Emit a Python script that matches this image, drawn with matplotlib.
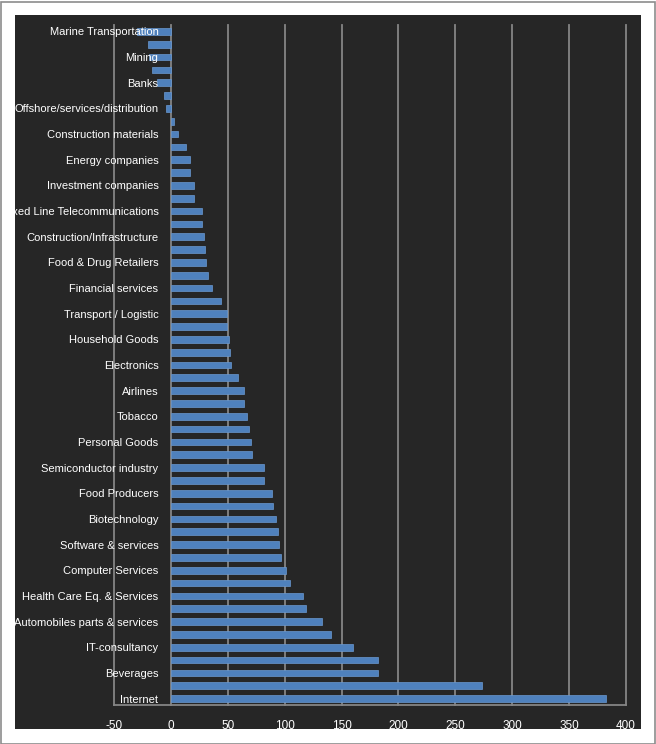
import matplotlib
matplotlib.use('Agg')
import matplotlib.pyplot as plt
import numpy as np
from matplotlib.patches import Rectangle
from matplotlib.transforms import Bbox, TransformedBbox

plt.rcParams['font.family'] = ['Liberation Sans', 'DejaVu Sans']

# every other category is labelled in the chart, the rest have no visible name
labels = ['Marine Transportation', '', 'Mining', '', 'Banks', '',
          'Offshore/services/distribution', '', 'Construction materials', '',
          'Energy companies', '', 'Investment companies', '',
          'Fixed Line Telecommunications', '', 'Construction/Infrastructure', '',
          'Food & Drug Retailers', '', 'Financial services', '',
          'Transport / Logistic', '', 'Household Goods', '', 'Electronics', '',
          'Airlines', '', 'Tobacco', '', 'Personal Goods', '',
          'Semiconductor industry', '', 'Food Producers', '', 'Biotechnology', '',
          'Software & services', '', 'Computer Services', '',
          'Health Care Eq. & Services', '', 'Automobiles parts & services', '',
          'IT-consultancy', '', 'Beverages', '', 'Internet']
values = [-30, -20, -19, -17, -12, -6, -4, 3, 6, 13, 17, 17, 20, 20, 27, 27,
          29, 30, 31, 33, 36, 44, 49, 49, 51, 52, 53, 59, 64, 64, 67, 69, 70,
          71, 82, 82, 89, 90, 92, 94, 95, 97, 101, 105, 116, 119, 133, 141,
          160, 182, 182, 273, 382]
xticks = [-50, 0, 50, 100, 150, 200, 250, 300, 350, 400]

W, H = 656, 744
fig = plt.figure(figsize=(W / 100, H / 100), dpi=100)
fig.patch.set_facecolor('white')
dark = '#262626'

# outer border and dark chart area (behind the axes)
fig.patches.append(Rectangle((0.5 / W, 0.5 / H), (W - 2) / W, (H - 2) / H,
                             transform=fig.transFigure, facecolor='white',
                             edgecolor='#8c8c8c', lw=1.2, zorder=-3))
area = (15 / W, 1 - 729 / H, 641 / W, 1 - 15 / H)
fig.patches.append(Rectangle((area[0], area[1]), area[2] - area[0], area[3] - area[1],
                             transform=fig.transFigure, facecolor=dark,
                             edgecolor='none', zorder=-2))

ax = fig.add_axes([114 / W, 39 / H, (626 - 114) / W, 680 / H])
ax.set_facecolor(dark)

y = np.arange(len(values))
ax.barh(y, values, height=0.52, color='#4f81bd', edgecolor='#6a98d0',
        linewidth=0.5, zorder=2)

ax.set_xlim(-50, 400)
ax.set_ylim(len(values) - 0.5, -0.5)
ax.set_xticks(xticks)
ax.set_xticklabels([str(v) for v in xticks])
for v in xticks:
    ax.axvline(v, color='#858585', lw=1.3, zorder=1, clip_on=False)

ax.set_yticks(y)
ax.set_yticklabels(labels)
ax.spines['left'].set_position(('data', 0))
for s in ['top', 'right', 'left']:
    ax.spines[s].set_visible(False)
ax.spines['bottom'].set_color('#858585')
ax.spines['bottom'].set_linewidth(1.3)
ax.yaxis.set_zorder(4)

ax.tick_params(axis='y', length=0, pad=9, labelsize=8, colors='white')
ax.tick_params(axis='x', length=0, pad=11, labelsize=8.5, colors='white')

clip = TransformedBbox(Bbox.from_extents(*area), fig.transFigure)
for t in ax.get_yticklabels():
    t.set_clip_box(clip)
    t.set_clip_on(True)

fig.savefig('out.png', dpi=100, facecolor='white')
